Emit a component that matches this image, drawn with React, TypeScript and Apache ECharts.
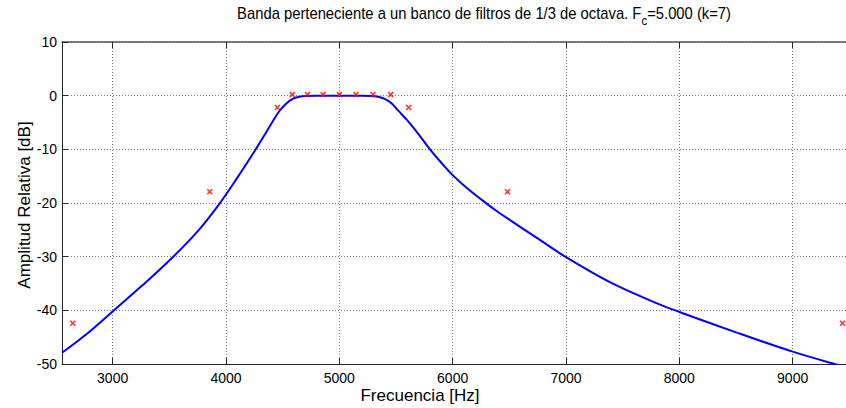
import React, { useEffect, useRef } from "react";
import * as echarts from "echarts";

// Filter response curve (frequency in Hz, amplitude in dB)
const curveFreq = [
  2553, 2765, 3000, 3265, 3530, 3765, 3940, 4090, 4250, 4355, 4412, 4470, 4530,
  4588, 4647, 4706, 4800, 5000, 5200, 5280, 5340, 5400, 5460, 5520, 5600, 5700,
  5800, 5900, 6000, 6125, 6250, 6375, 6500, 6750, 7000, 7400, 7825, 8000, 8500, 9000, 9370, 10000,
];
const curveDb = [
  -47.9, -44.5, -40.2, -35.3, -30.1, -24.9, -20.2, -15.6, -10.4, -6.8, -4.8, -2.9, -1.5,
  -0.6, -0.2, -0.05, 0, 0, 0, -0.05, -0.2, -0.6, -1.4, -2.8, -4.6, -7.2,
  -10, -12.5, -14.8, -17.2, -19.3, -21.3, -23.1, -26.6, -30.1, -34.9, -38.9, -40.3, -44.1, -47.7, -50, -53.7,
];

// Red "x" markers
const markFreq = [2648, 3857, 4454, 4585, 4719, 4857, 5000, 5147, 5297, 5453, 5612, 6484, 9440];
const markDb = [-42.4, -17.9, -2.2, 0.2, 0.2, 0.2, 0.2, 0.2, 0.2, 0.2, -2.2, -17.9, -42.4];

const yTicks = [-50, -40, -30, -20, -10, 0, 10];

const FONT = "'Liberation Sans', Arial, Helvetica, sans-serif";

export default function App() {
  const ref = useRef<HTMLDivElement>(null);
  useEffect(() => {
    if (!ref.current) return;
    const chart = echarts.init(ref.current, null, { renderer: "svg" });
    const gridLine = { show: true, lineStyle: { color: "#7a7a7a", type: [1, 2], width: 1 } };
    chart.setOption({
      animation: false,
      backgroundColor: "#ffffff",
      grid: { left: 62, right: 4, top: 42, bottom: 44, containLabel: false },
      xAxis: [
        {
          type: "value",
          min: 2553,
          max: 10000,
          splitNumber: 7,
          position: "bottom",
          axisLine: { show: true, onZero: false, lineStyle: { color: "#262626", width: 1 } },
          axisTick: { show: true, inside: true, length: 6, lineStyle: { color: "#262626" } },
          axisLabel: {
            show: true,
            showMinLabel: false,
            showMaxLabel: false,
            formatter: (v: number) => String(v),
            fontSize: 14,
            fontFamily: FONT,
            color: "#000",
            margin: 7,
          },
          splitLine: gridLine,
        },
        {
          type: "value",
          min: 2553,
          max: 10000,
          splitNumber: 7,
          position: "top",
          axisLine: { show: true, onZero: false, lineStyle: { color: "#555", width: 1.5 } },
          axisTick: { show: true, inside: true, length: 6, lineStyle: { color: "#262626" } },
          axisLabel: { show: false },
          splitLine: { show: false },
        },
      ],
      yAxis: [
        {
          type: "value",
          min: yTicks[0],
          max: yTicks[yTicks.length - 1],
          interval: 10,
          axisLine: { show: true, onZero: false, lineStyle: { color: "#262626", width: 1 } },
          axisTick: { show: true, inside: true, length: 6, lineStyle: { color: "#262626" } },
          axisLabel: {
            fontSize: 14,
            fontFamily: FONT,
            color: "#000",
            margin: 5,
          },
          splitLine: gridLine,
        },
      ],
      graphic: [
        {
          type: "text",
          x: 484,
          y: 16,
          scaleX: 0.87,
          style: {
            text: "{a|Banda perteneciente a un banco de filtros de 1/3 de octava. F}{s|c}{a|=5.000 (k=7)}",
            align: "center",
            verticalAlign: "middle",
            fill: "#000",
            rich: {
              a: { fontSize: 17, fontFamily: FONT, lineHeight: 22, fill: "#000", verticalAlign: "top" },
              s: { fontSize: 13, fontFamily: FONT, lineHeight: 12, fill: "#000", verticalAlign: "bottom" },
            },
          },
        },
        {
          type: "text",
          x: 420,
          y: 395,
          style: {
            text: "Frecuencia [Hz]",
            fontSize: 17,
            fontFamily: FONT,
            fill: "#000",
            align: "center",
            verticalAlign: "middle",
          },
        },
        {
          type: "text",
          x: 24,
          y: 205,
          rotation: Math.PI / 2,
          style: {
            text: "Amplitud Relativa [dB]",
            fontSize: 17,
            fontFamily: FONT,
            fill: "#000",
            align: "center",
            verticalAlign: "middle",
          },
        },
      ],
      series: [
        {
          type: "line",
          data: curveFreq.map((f, i) => [f, curveDb[i]]),
          showSymbol: false,
          smooth: 0.35,
          lineStyle: { color: "#0000ff", width: 2 },
          clip: true,
          z: 3,
        },
        {
          type: "scatter",
          data: markFreq.map((f, i) => [f, markDb[i]]),
          symbol: "path://M0,0L10,10M10,0L0,10",
          symbolSize: 5,
          itemStyle: { color: "#ff0000", borderColor: "#ff0000", borderWidth: 1.6 },
          z: 4,
        },
      ],
    });
    return () => chart.dispose();
  }, []);
  return (
    <div
      ref={ref}
      style={{ position: "fixed", left: 0, top: 0, width: 910, height: 408, background: "#fff" }}
    />
  );
}
